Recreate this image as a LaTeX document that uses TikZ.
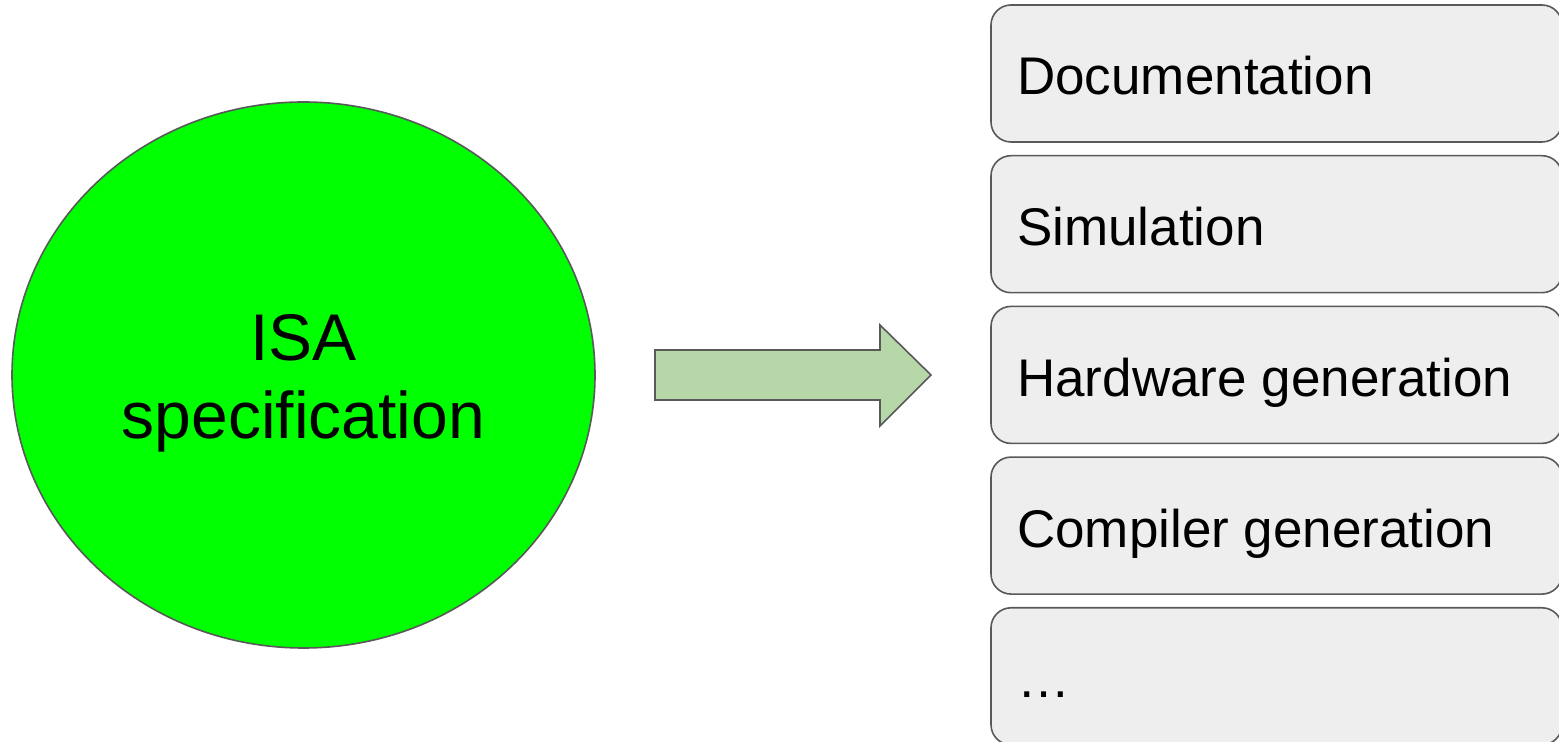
\documentclass[tikz,border=0pt]{standalone}
\usepackage{fontspec}
\setmainfont{Liberation Sans}
\usetikzlibrary{shapes.geometric}
\definecolor{strokegray}{HTML}{595959}
\definecolor{boxfill}{HTML}{EEEEEE}
\definecolor{arrowgreen}{HTML}{B6D7A8}
\definecolor{isagreen}{HTML}{00FF00}
\begin{document}
\begin{tikzpicture}[x=1bp,y=1bp,
  itembox/.style={draw=strokegray, fill=boxfill, line width=1.6bp, rounded corners=20bp},
  itemtext/.style={anchor=base west, inner sep=0pt, font=\fontsize{53bp}{60bp}\selectfont},
  isa/.style={ellipse, draw=strokegray, fill=isagreen, line width=1.6bp, minimum width=583bp, minimum height=546bp, inner sep=0pt},
  isatext/.style={align=center, inner sep=0pt, font=\fontsize{66bp}{78bp}\selectfont}]
\useasboundingbox (0,0) rectangle (1559,742);
% ISA ellipse
\node[isa] (isa) at (303.5,367) {};
\node[isatext, yshift=-8bp] (isalabel) at (isa.center) {ISA\\specification};
% arrow
\draw[draw=strokegray, fill=arrowgreen, line width=1.6bp, line join=miter]
  (655,392) -- (880,392) -- (880,417) -- (931,367) -- (880,316) -- (880,342) -- (655,342) -- cycle;
% boxes
\foreach \i/\t [count=\k] in {0/Documentation, 1/Simulation, 2/Hardware generation, 3/Compiler generation, 4/\dots}{
  \pgfmathsetmacro{\top}{737-150.7*\i}
  \pgfmathsetmacro{\bot}{\top-137}
  \pgfmathsetmacro{\base}{\top-90}
  \draw[itembox] (991,\bot) rectangle (1562,\top);
  \node[itemtext] (item\k) at (1017,\base) {\t};
}
\end{tikzpicture}
\end{document}
